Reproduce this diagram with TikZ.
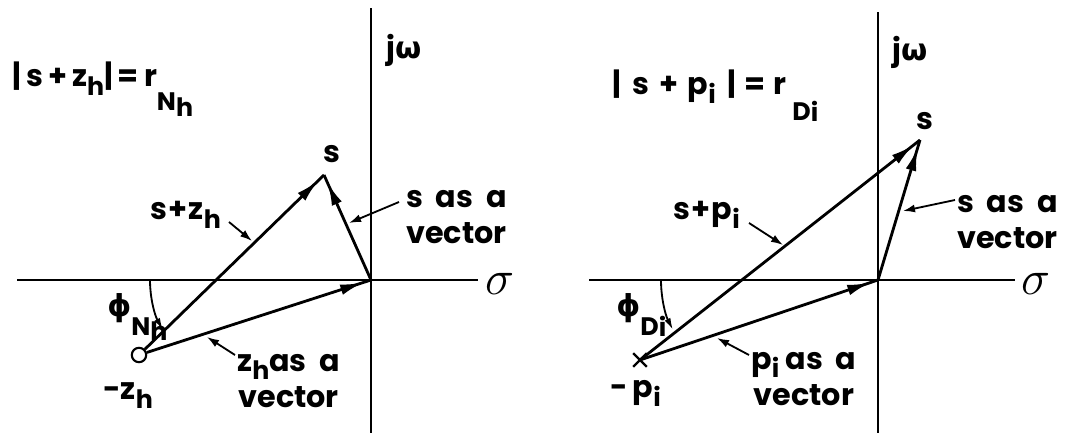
\documentclass[tikz,border=0pt]{standalone}
\usepackage{fontspec}
\setmainfont{Poppins}
\newfontfamily\greek{DejaVu Sans}
\usetikzlibrary{arrows.meta,decorations.markings,shapes.misc}
\newcommand\lsub[2][-6pt]{\raisebox{#1}{\fontsize{18}{18}\selectfont #2}}
\newcommand\gphi{{\greek\bfseries ϕ}}
\newcommand\gomega{{\greek\bfseries ω}}
\newcommand\bigsig{\scalebox{1.4}{$\sigma$}}
\begin{document}
\begin{tikzpicture}[x=0.025cm,y=0.025cm,
  lbl/.style={font=\bfseries\fontsize{21.5}{26}\selectfont, inner sep=0pt, align=center},
  axisline/.style={line width=1.3pt},
  vec/.style={line width=2pt, postaction=decorate,
    decoration={markings, mark=at position -0.2cm with {\arrow{Latex[length=0.58cm,width=0.27cm]}}}},
  ptr/.style={line width=1.3pt, -{Latex[length=0.3cm,width=0.2cm]}},
  ang/.style={line width=1.3pt, -{Latex[length=0.3cm,width=0.16cm]}},
  sig/.style={font=\fontsize{24.88}{25}\selectfont, inner sep=0pt}]
\useasboundingbox (0,0) rectangle (1071,433);

% ---------------- left panel ----------------
\coordinate (L1a) at (17,153);
\coordinate (L1b) at (478,153);
\coordinate (V1a) at (371,0);
\coordinate (V1b) at (371,425);
\draw[axisline] (L1a) -- (L1b);
\draw[axisline] (V1a) -- (V1b);
\coordinate (O1) at (371,153);
\coordinate (S1) at (324,258);
\node[draw, circle, line width=1.5pt, minimum size=0.36cm, inner sep=0pt] (Z1) at (139,78) {};
\draw[vec] (Z1) -- (O1);
\draw[vec] (Z1) -- (S1);
\draw[vec] (O1) -- (S1);
\coordinate (A1) at (150,153);
\draw[ang] (A1) arc[start angle=180, end angle=209, radius=2.575cm];

\node[lbl, anchor=base west] (f1) at (12,346) {|\,s\,+\,z\lsub{h}|\,=\,r\lsub[-17pt]{N\lsub[-4pt]{h}}};
\node[lbl, anchor=base west] (jw1) at (386,374) {j\gomega};
\node[lbl, anchor=base] (s1) at (332,270) {s};
\node[lbl, anchor=base west] (sz1) at (150,213) {s\kern1pt+\kern1pt z\lsub{h}};
\node[lbl, anchor=west] (sv1) at (406,216) {s\ \ as\ \ a\\vector};
\node[lbl, anchor=base west] (phi1) at (107,116) {\gphi\lsub[-13pt]{N\lsub[-4pt]{h}}};
\node[lbl, anchor=base west] (mz1) at (103,33) {-z\lsub{h}};
\node[lbl, anchor=west] (zv1) at (237,52) {z\lsub{h}as\ \ a\\vector};
\node[sig, anchor=west] (sg1) at (485,149) {\bigsig};

\coordinate (t1a) at (229,211); \coordinate (h1a) at (252,192);
\coordinate (t1b) at (399,231); \coordinate (h1b) at (349,210);
\coordinate (t1c) at (235,78);  \coordinate (h1c) at (207,96);
\draw[ptr] (t1a) -- (h1a);
\draw[ptr] (t1b) -- (h1b);
\draw[ptr] (t1c) -- (h1c);

% ---------------- right panel ----------------
\coordinate (L2a) at (589,153);
\coordinate (L2b) at (1015,153);
\coordinate (V2a) at (878,0);
\coordinate (V2b) at (878,421);
\draw[axisline] (L2a) -- (L2b);
\draw[axisline] (V2a) -- (V2b);
\coordinate (O2) at (878,153);
\coordinate (S2) at (920,293);
\node[draw, cross out, line width=1.7pt, minimum size=0.28cm, inner sep=0pt] (P2) at (640,73) {};
\draw[vec] (P2.center) -- (O2);
\draw[vec] (P2.center) -- (S2);
\draw[vec] (O2) -- (S2);
\coordinate (A2) at (661,153);
\draw[ang] (A2) arc[start angle=180, end angle=207, radius=2.75cm];

\node[lbl, anchor=base west] (f2) at (612,338) {|\kern8pt s\kern7pt+\kern7pt p\lsub{i}\kern8pt|\kern6pt=\kern6pt r\lsub[-18pt]{\kern4pt D\lsub[-1pt]{i}}};
\node[lbl, anchor=base west] (jw2) at (892,372) {j\gomega};
\node[lbl, anchor=base] (s2) at (925,303) {s};
\node[lbl, anchor=base west] (sp2) at (673,213) {s\kern1pt+\kern1pt p\lsub{i}};
\node[lbl, anchor=west] (sv2) at (957,211) {s\ \ as\ \ a\\vector};
\node[lbl, anchor=base west] (phi2) at (616,116) {\gphi\lsub[-13pt]{D\lsub[-1pt]{i}}};
\node[lbl, anchor=base west] (mp2) at (610,35) {-\,p\lsub{i}};
\node[lbl, anchor=west] (pv2) at (751,54) {p\lsub{i}\ as\ \ a\\vector};
\node[sig, anchor=west] (sg2) at (1021,149) {\bigsig};

\coordinate (t2a) at (749,210); \coordinate (h2a) at (783,188);
\coordinate (t2b) at (955,233); \coordinate (h2b) at (903,222);
\coordinate (t2c) at (749,78);  \coordinate (h2c) at (717,95);
\draw[ptr] (t2a) -- (h2a);
\draw[ptr] (t2b) -- (h2b);
\draw[ptr] (t2c) -- (h2c);
\end{tikzpicture}
\end{document}
